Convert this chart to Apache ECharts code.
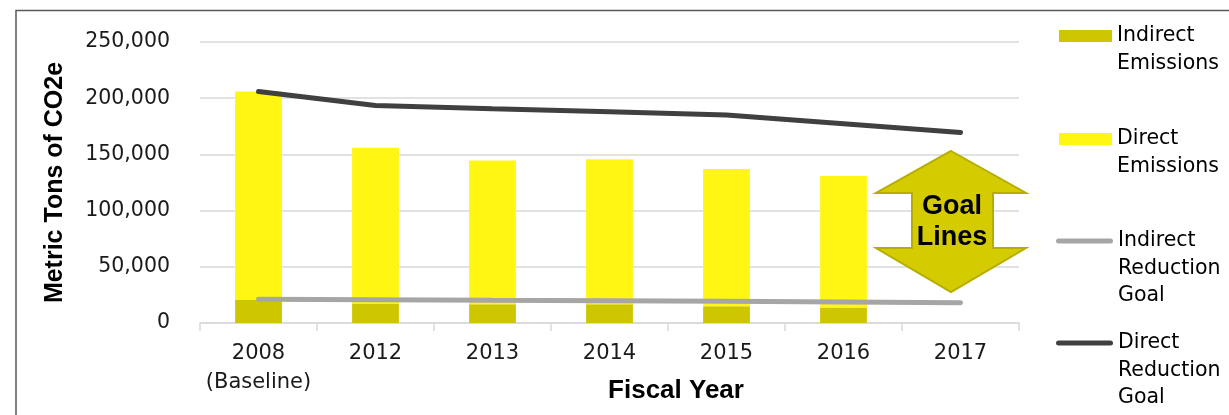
<!DOCTYPE html>
<html>
<head>
<meta charset="utf-8">
<script src="https://cdn.jsdelivr.net/npm/echarts@6/dist/echarts.min.js"></script>
<style>
html,body{margin:0;padding:0;background:#fff;}
#chart{width:1229px;height:415px;}
</style>
</head>
<body>
<div id="chart"></div>
<script>
const categories = ['2008\n(Baseline)', '2012', '2013', '2014', '2015', '2016', '2017'];
const indirectEmissions = [21000, 17300, 16700, 16700, 14900, 13700, null];
const directEmissions = [185000, 138700, 127900, 128900, 122100, 117000, null];
const indirectReductionGoal = [21200, 20700, 20200, 19800, 19300, 18700, 18000];
const directReductionGoal = [206000, 193500, 190700, 188000, 185000, 177300, 169500];
const yTicks = [0, 50000, 100000, 150000, 200000, 250000];

const FONT = 'DejaVu Sans, sans-serif';
const BOLD = 'Liberation Sans, Arial, sans-serif';
const LH = 27.5;
const legendLabels = {
  'Indirect Emissions': ['Indirect', 'Emissions'],
  'Direct Emissions': ['Direct', 'Emissions'],
  'Indirect Reduction Goal': ['Indirect', 'Reduction', 'Goal'],
  'Direct Reduction Goal': ['Direct', 'Reduction', 'Goal']
};
const lineIcon = 'path://M2.5,0H54.5A2.5,2.5,0,0,1,54.5,5H2.5A2.5,2.5,0,0,1,2.5,0Z';
function legendCfg(name, iconCenterY, isLine) {
  const lines = legendLabels[name];
  // blank lines above so that the first text line sits level with the icon
  const total = lines.length * 2 - 1;
  return {
    data: [isLine ? { name: name, icon: lineIcon } : { name: name, icon: 'rect' }],
    left: isLine ? 1056 : 1059,
    top: iconCenterY - total * LH / 2,
    orient: 'vertical',
    padding: 0,
    itemWidth: isLine ? 57 : 53,
    itemHeight: isLine ? 5 : 12,
    itemGap: 0,
    selectedMode: false,
    formatter: n => {
      const l = legendLabels[n];
      return new Array(l.length - 1).fill(' ').concat(l).join('\n');
    },
    textStyle: { fontFamily: FONT, fontSize: 20.5, color: '#000', lineHeight: LH }
  };
}

const chart = echarts.init(document.getElementById('chart'));
chart.setOption({
  animation: false,
  backgroundColor: '#fff',
  grid: { left: 200, right: 210, top: 42, bottom: 92, containLabel: false, outerBoundsMode: 'none' },
  legend: [
    legendCfg('Indirect Emissions', 36, false),
    legendCfg('Direct Emissions', 139, false),
    legendCfg('Indirect Reduction Goal', 241, true),
    legendCfg('Direct Reduction Goal', 343, true)
  ],
  xAxis: {
    type: 'category',
    data: categories,
    name: 'Fiscal Year',
    nameLocation: 'middle',
    nameGap: 55,
    nameMoveOverlap: false,
    nameTextStyle: { fontFamily: BOLD, fontSize: 26, fontWeight: 'bold', color: '#000', padding: [0, 0, 0, 133] },
    axisLine: { lineStyle: { color: '#d9d9d9', width: 1.5 } },
    axisTick: { show: true, interval: 0, length: 8, lineStyle: { color: '#d9d9d9', width: 1.5 } },
    axisLabel: { interval: 0, fontFamily: FONT, fontSize: 21, color: '#1a1a1a', margin: 16, lineHeight: 29 }
  },
  yAxis: {
    type: 'value',
    min: 0, max: 250000, interval: 50000,
    name: 'Metric Tons of CO2e',
    nameLocation: 'middle',
    nameGap: 132,
    nameMoveOverlap: false,
    nameTextStyle: { fontFamily: BOLD, fontSize: 25, fontWeight: 'bold', color: '#000' },
    axisLine: { show: false },
    axisTick: { show: false },
    splitLine: { lineStyle: { color: '#d9d9d9', width: 1.5 } },
    axisLabel: {
      fontFamily: FONT, fontSize: 20.5, color: '#1a1a1a', margin: 30,
      formatter: v => yTicks.includes(v) ? v.toLocaleString('en-US') : ''
    }
  },
  series: [
    { name: 'Indirect Emissions', type: 'bar', stack: 'e', barWidth: '40%', data: indirectEmissions, itemStyle: { color: '#cdc600' } },
    { name: 'Direct Emissions', type: 'bar', stack: 'e', barWidth: '40%', data: directEmissions, itemStyle: { color: '#fff614' } },
    { name: 'Indirect Reduction Goal', type: 'line', symbol: 'none', data: indirectReductionGoal, lineStyle: { color: '#a6a6a6', width: 5, cap: 'round' }, itemStyle: { color: '#a6a6a6' } },
    { name: 'Direct Reduction Goal', type: 'line', symbol: 'none', data: directReductionGoal, lineStyle: { color: '#404040', width: 5, cap: 'round' }, itemStyle: { color: '#404040' } }
  ],
  graphic: [
    { type: 'rect', z: 0, silent: true, shape: { x: 16, y: 10.5, width: 1400, height: 600 }, style: { fill: 'none', stroke: '#595959', lineWidth: 1.5 } },
    { type: 'polygon', z: 100, silent: true,
      shape: { points: [[951,151],[1026,193],[993,193],[993,248],[1026,248],[951,292],[876,248],[912,248],[912,193],[876,193]] },
      style: { fill: '#d4cb00', stroke: '#b5ae00', lineWidth: 2 } },
    { type: 'text', z: 101, silent: true, x: 952, y: 222,
      style: { text: 'Goal\nLines', fontFamily: BOLD, fontSize: 27, fontWeight: 'bold', fill: '#000', align: 'center', verticalAlign: 'middle', lineHeight: 31 } }
  ]
});
</script>
</body>
</html>
